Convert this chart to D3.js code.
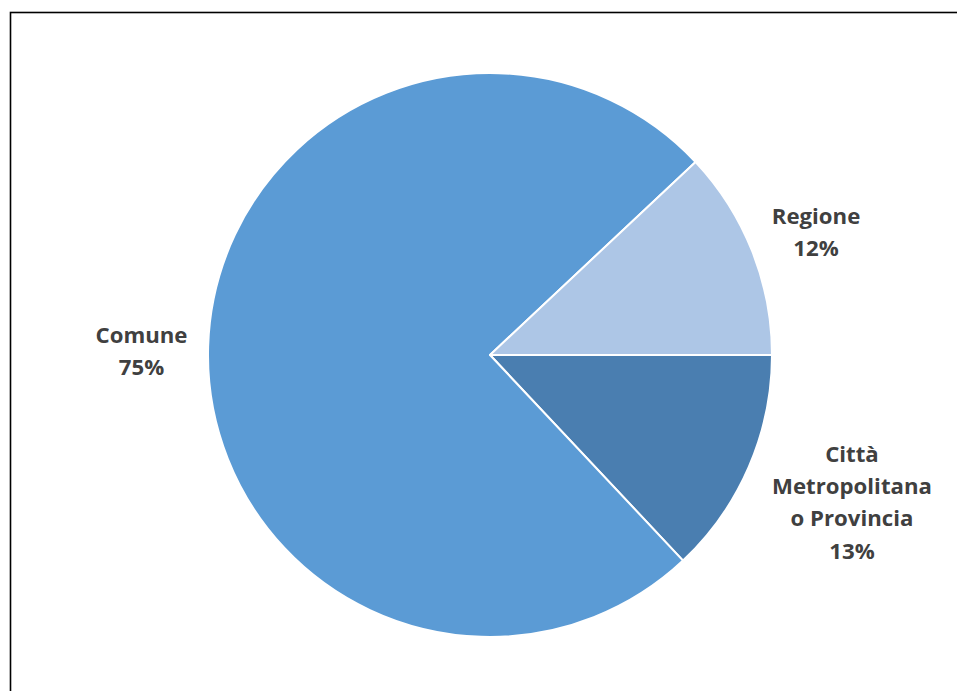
<!DOCTYPE html>
<html>
<head>
<meta charset="utf-8">
<script src="https://cdn.jsdelivr.net/npm/d3@7"></script>
<style>
  html, body { margin: 0; padding: 0; background: #fff; }
  svg { display: block; }
</style>
</head>
<body>
<svg id="chart" width="957" height="691"></svg>
<script>
// Share of entities by level of government
const categories = ["Città Metropolitana o Provincia", "Comune", "Regione"];
const values = [13, 75, 12];
const colors = ["#4A7EB0", "#5B9BD5", "#ADC6E6"];
// Label lines shown beside each slice
const labelLines = [
  ["Città", "Metropolitana", "o Provincia", "13%"],
  ["Comune", "75%"],
  ["Regione", "12%"]
];
// Label anchor: horizontal centre and baseline of the first line
const labelPos = [[852, 462], [141.5, 343], [816, 223.5]];

const svg = d3.select("#chart");

// Frame around the chart area
svg.append("rect")
  .attr("x", 10.5).attr("y", 12.5)
  .attr("width", 1000).attr("height", 1000)
  .attr("fill", "none").attr("stroke", "#000").attr("stroke-width", 1.6);

const cx = 490, cy = 355, r = 282;

const data = categories.map((c, i) => ({ category: c, value: values[i], color: colors[i], lines: labelLines[i], pos: labelPos[i] }));

const pie = d3.pie()
  .sort(null)
  .value(d => d.value)
  .startAngle(Math.PI / 2)
  .endAngle(Math.PI / 2 + 2 * Math.PI);

const arc = d3.arc().innerRadius(0).outerRadius(r);

const g = svg.append("g").attr("transform", `translate(${cx},${cy})`);

g.selectAll("path")
  .data(pie(data))
  .join("path")
  .attr("d", arc)
  .attr("fill", d => d.data.color)
  .attr("stroke", "#fff")
  .attr("stroke-width", 2)
  .attr("stroke-linejoin", "round");

const lineH = 32.2;
const labels = svg.append("g")
  .attr("font-family", "'Open Sans', sans-serif")
  .attr("font-weight", "bold")
  .attr("font-size", 22.2)
  .attr("fill", "#404040")
  .attr("text-anchor", "middle");

data.forEach(d => {
  const t = labels.append("text")
    .attr("x", d.pos[0])
    .attr("y", d.pos[1]);
  d.lines.forEach((line, i) => {
    t.append("tspan")
      .attr("x", d.pos[0])
      .attr("dy", i === 0 ? 0 : lineH)
      .text(line);
  });
});
</script>
</body>
</html>
